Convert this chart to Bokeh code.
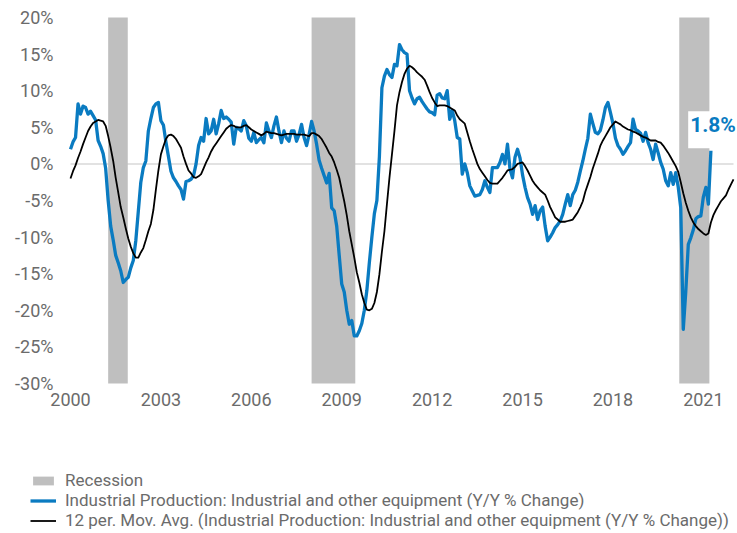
from bokeh.plotting import figure
from bokeh.models import (ColumnDataSource, Legend, LegendItem, Label,
                          FixedTicker, PrintfTickFormatter, Range1d)
from bokeh.embed import file_html
from bokeh.resources import INLINE

# ---------------- data (monthly, starting Jan 2000) ----------------
START_YEAR = 2000
BLUE_NAME = "Industrial Production: Industrial and other equipment (Y/Y % Change)"
BLACK_NAME = "12 per. Mov. Avg. (Industrial Production: Industrial and other equipment (Y/Y % Change))"

ip_yoy = [
    2.0, 3.0, 3.6, 8.2, 6.8, 7.9, 7.7, 6.8, 7.2, 6.6, 6.0, 3.2,
    2.4, 1.4, -0.6, -5.0, -8.5, -10.4, -12.5, -13.5, -14.6, -16.2, -15.8, -15.5,
    -14.2, -13.2, -10.5, -6.5, -2.5, -0.5, 0.4, 4.5, 6.2, 7.7, 8.2, 8.4,
    5.9, 5.3, 3.0, 1.0, -1.0, -1.9, -2.4, -3.0, -3.5, -4.8, -2.4, -2.3,
    -2.1, -1.6, 0.0, 2.5, 3.6, 3.1, 6.2, 4.1, 4.5, 6.1, 4.1, 5.5,
    7.3, 6.2, 6.4, 6.1, 5.7, 2.7, 5.0, 4.8, 4.5, 5.9, 5.2, 3.5,
    3.1, 4.3, 2.9, 3.3, 3.6, 2.9, 5.6, 4.5, 3.6, 5.2, 6.4, 4.5,
    2.9, 4.5, 3.5, 3.1, 4.5, 4.5, 3.1, 4.0, 5.4, 3.6, 2.5, 4.0,
    5.8, 4.5, 2.7, 0.5, -0.6, -1.6, -2.6, -1.3, -6.0, -6.4, -8.5, -12.5,
    -16.4, -17.5, -20.0, -21.9, -21.4, -23.5, -23.5, -22.8, -21.8, -20.0, -17.3, -13.5,
    -10.0, -6.8, -5.0, 1.0, 10.4, 12.0, 12.9, 12.2, 11.8, 13.6, 13.4, 16.3,
    15.6, 15.2, 15.0, 10.0, 9.0, 8.2, 8.9, 9.1, 8.5, 8.0, 7.5, 7.1,
    7.0, 6.7, 9.4, 9.6, 9.0, 8.9, 10.0, 6.1, 7.3, 5.9, 3.6, 3.4,
    -1.4, 0.0, -1.2, -3.0, -3.7, -4.4, -4.3, -4.2, -3.5, -2.3, -3.2, -3.9,
    -0.5, -0.5, -0.5, 0.2, 1.3, 0.0, 2.7, -0.7, -1.9, 0.9, 2.0, 0.8,
    -1.5, -3.2, -4.6, -5.5, -6.9, -5.7, -7.6, -6.4, -5.9, -8.5, -10.5, -10.0,
    -9.4, -8.7, -8.3, -7.8, -6.9, -5.5, -4.2, -5.7, -4.2, -3.6, -2.5, -1.0,
    0.4, 2.0, 3.5, 6.8, 5.5, 4.3, 4.1, 4.6, 6.0, 7.7, 8.4, 7.0,
    5.5, 3.5, 2.5, 2.0, 1.3, 1.8, 2.4, 2.9, 6.1, 4.7, 4.5, 4.2,
    3.1, 4.3, 2.9, 2.0, 0.6, 2.7, 1.5, 0.2, -0.7, -2.3, -3.0, -1.2,
    -2.8, -1.2, -3.2, -6.0, -22.6, -17.4, -11.0, -10.1, -9.0, -7.5, -7.2, -7.1,
    -4.5, -3.2, -5.5, 1.8,
]

ip_mavg12 = [
    -2.0, -1.0, -0.2, 0.8, 1.7, 2.7, 3.6, 4.5, 5.1, 5.6, 5.8, 6.0,
    5.9, 5.8, 5.2, 3.8, 2.2, 0.4, -1.9, -3.9, -5.9, -7.3, -8.8, -10.2,
    -11.3, -12.2, -12.8, -12.8, -12.1, -11.5, -10.4, -9.2, -8.2, -6.3, -3.5, -0.9,
    1.3, 2.4, 3.4, 3.9, 4.0, 3.8, 3.4, 2.8, 2.2, 1.0, 0.0, -0.9,
    -1.3, -1.8, -1.9, -1.7, -1.4, -0.6, 0.2, 0.9, 1.7, 2.3, 2.8, 3.3,
    3.8, 4.3, 4.8, 5.1, 5.3, 5.2, 5.0, 5.0, 5.0, 5.2, 5.3, 5.0,
    4.7, 4.5, 4.3, 4.1, 3.9, 4.1, 4.4, 4.3, 4.2, 4.2, 4.1, 4.0,
    3.9, 4.0, 4.1, 4.1, 4.1, 4.1, 4.0, 4.0, 4.0, 4.0, 3.9, 3.8,
    4.2, 4.2, 4.0, 3.8, 3.4, 2.8, 2.2, 1.5, 1.0, 0.2, -0.8, -1.9,
    -3.5, -5.1, -7.0, -9.2, -11.0, -12.8, -14.8, -16.2, -17.8, -19.0, -19.9, -20.0,
    -19.8, -19.0, -17.5, -15.1, -12.0, -9.2, -5.5, -1.9, 1.3, 4.5, 8.0, 9.8,
    11.2, 12.3, 13.0, 13.4, 13.2, 12.9, 12.5, 12.2, 11.9, 11.5, 10.7, 9.8,
    9.0, 8.4, 7.9, 8.0, 8.0, 8.0, 7.9, 7.7, 7.5, 7.3, 6.6, 6.1,
    5.8, 5.5, 4.3, 3.1, 2.0, 1.0, 0.0, -0.7, -1.2, -1.7, -2.2, -2.6,
    -2.7, -2.7, -2.7, -2.3, -1.9, -1.4, -0.9, -0.8, -0.7, -0.4, 0.0, 0.1,
    0.2, -0.3, -0.9, -1.6, -2.3, -2.8, -3.2, -3.6, -3.9, -4.2, -5.0, -5.9,
    -6.6, -7.3, -7.6, -7.9, -7.9, -7.9, -7.8, -7.7, -7.6, -7.1, -6.6, -5.9,
    -5.1, -3.8, -2.8, -1.8, -0.6, 0.4, 1.4, 2.5, 3.2, 3.8, 4.4, 5.0,
    5.4, 5.8, 5.6, 5.4, 5.1, 4.9, 4.7, 4.6, 4.4, 4.3, 4.1, 3.9,
    3.7, 3.6, 3.4, 3.2, 3.2, 3.2, 3.0, 2.9, 2.5, 2.0, 1.5, 0.9,
    0.3, -0.3, -1.1, -2.5, -4.0, -5.3, -6.4, -7.3, -8.0, -8.5, -8.9, -9.2,
    -9.5, -9.7, -9.5, -8.0, -7.0, -6.3, -5.7, -5.1, -4.7, -4.3, -3.5, -2.8,
    -2.1,
]

# recession periods (decimal years)
rec_start = [2001.25, 2008.0, 2020.2]
rec_end = [2001.9, 2009.45, 2021.2]

x_ticks = [2000, 2003, 2006, 2009, 2012, 2015, 2018, 2021]
y_ticks = [-30, -25, -20, -15, -10, -5, 0, 5, 10, 15, 20]
x_min, x_max = 2000, 2022       # data extent of the plot area
y_min, y_max = -30, 20

# ---------------- layout (pixels) ----------------
W, H = 737, 533
AREA_LEFT, AREA_RIGHT, AREA_TOP, AREA_BOTTOM = 70, 733, 17, 383   # plot area in page pixels
ppx = (AREA_RIGHT - AREA_LEFT) / (x_max - x_min)
ppy = (AREA_BOTTOM - AREA_TOP) / (y_max - y_min)
view_x = (x_min - AREA_LEFT / ppx, x_max + (W - AREA_RIGHT) / ppx)
view_y = (y_min - (H - AREA_BOTTOM) / ppy, y_max + AREA_TOP / ppy)

BLUE = "#0a7bc1"
GREY = "#bfbfbf"
TXT = "#6b6b6b"
FONT = "Roboto"

blue_src = ColumnDataSource(dict(x=[START_YEAR + i / 12 for i in range(len(ip_yoy))], y=ip_yoy))
black_src = ColumnDataSource(dict(x=[START_YEAR + i / 12 for i in range(len(ip_mavg12))], y=ip_mavg12))
rec_src = ColumnDataSource(dict(left=rec_start, right=rec_end,
                                bottom=[y_min] * len(rec_start), top=[y_max] * len(rec_start)))
zero_src = ColumnDataSource(dict(x0=[x_min], x1=[x_max], y0=[0], y1=[0]))

p = figure(width=W, height=H, output_backend="svg", toolbar_location=None,
           x_range=Range1d(*view_x), y_range=Range1d(*view_y),
           min_border=0, min_border_left=0, min_border_right=0,
           min_border_top=0, min_border_bottom=0)
p.outline_line_color = None
p.grid.visible = False
p.background_fill_color = "white"
p.border_fill_color = "white"

p.segment("x0", "y0", "x1", "y1", source=zero_src, line_color="#d9d9d9", line_width=1.5)
r_rec = p.quad(left="left", right="right", bottom="bottom", top="top", source=rec_src,
               fill_color=GREY, line_color=None)
r_blue = p.line("x", "y", source=blue_src, line_color=BLUE, line_width=3.3, line_join="round")
r_black = p.line("x", "y", source=black_src, line_color="black", line_width=1.8, line_join="round")

for ax in (p.xaxis[0], p.yaxis[0]):
    ax.axis_line_color = None
    ax.major_tick_line_color = None
    ax.minor_tick_line_color = None
    ax.major_tick_out = 0
    ax.major_tick_in = 0
    ax.minor_tick_out = 0
    ax.minor_tick_in = 0
    ax.major_label_text_font = FONT
    ax.major_label_text_font_size = "18px"
    ax.major_label_text_color = TXT

p.xaxis.ticker = FixedTicker(ticks=x_ticks)
p.xaxis.fixed_location = y_min
p.xaxis.major_label_standoff = 9
p.yaxis.ticker = FixedTicker(ticks=y_ticks)
p.yaxis.formatter = PrintfTickFormatter(format="%d%%")
p.yaxis.fixed_location = x_min
p.yaxis.major_label_standoff = 17

last_x = blue_src.data["x"][-1]
last_y = ip_yoy[-1]
lab = Label(x=last_x, y=last_y, text=f"{last_y:.1f}%", x_offset=30, y_offset=21,
            text_align="right", text_baseline="middle",
            text_font=FONT, text_font_style="bold", text_font_size="21px", text_color=BLUE,
            background_fill_color="white", padding=(2, 5, 2, 11))
p.add_layout(lab)

legend = Legend(items=[
    LegendItem(label="Recession", renderers=[r_rec]),
    LegendItem(label=BLUE_NAME, renderers=[r_blue]),
    LegendItem(label=BLACK_NAME, renderers=[r_black]),
], location=(30, 3), orientation="vertical",
    border_line_color=None, background_fill_alpha=0,
    label_text_font=FONT, label_text_font_size="17px", label_text_color=TXT,
    glyph_width=26, glyph_height=11, label_standoff=9, spacing=0,
    padding=0, margin=0, label_height=20)
p.add_layout(legend, "center")

open("out.html", "w").write(file_html(p, INLINE))
